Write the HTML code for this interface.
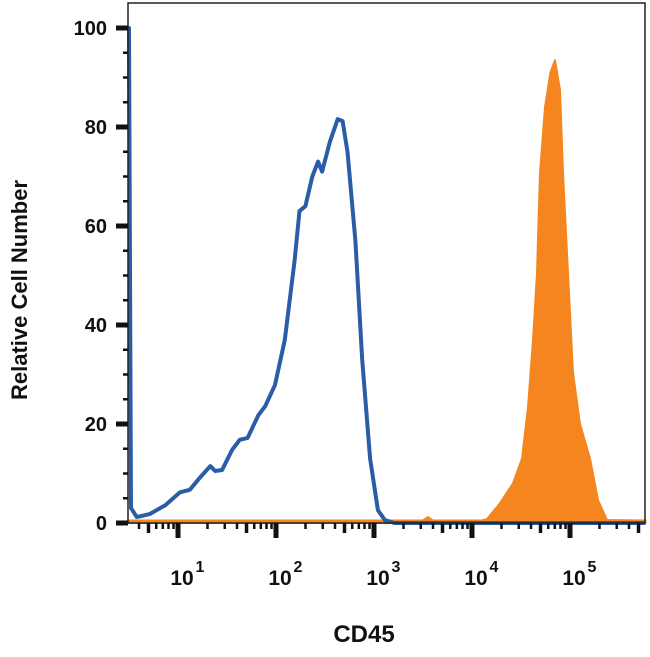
<!DOCTYPE html>
<html><head><meta charset="utf-8"><style>
html,body{margin:0;padding:0;background:#fff;}
svg text{font-family:"Liberation Sans",sans-serif;font-weight:bold;fill:#111;}
</style></head><body>
<svg id="chart" width="650" height="652" xmlns="http://www.w3.org/2000/svg"></svg>
<script>
const blueLog=[0.49,0.50,0.52,0.58,0.71,0.87,1.02,1.12,1.22,1.33,1.38,1.45,1.55,1.63,1.71,1.82,1.89,1.99,2.09,2.19,2.24,2.30,2.37,2.43,2.47,2.55,2.63,2.68,2.73,2.81,2.88,2.96,3.04,3.11,3.21,5.77];
const blueVal=[100,100,3,1.2,1.8,3.6,6.2,6.7,9.1,11.5,10.5,10.7,14.7,16.8,17.2,21.8,23.6,27.9,37,53,63,64,70,73,71,77,81.6,81.2,75,57,33,13,2.6,0.6,0,0];
const orangeLog=[0.49,3.50,3.55,3.60,4.10,4.153,4.286,4.418,4.510,4.571,4.622,4.663,4.694,4.745,4.800,4.847,4.898,4.929,4.980,5.031,5.102,5.204,5.286,5.378,5.77];
const orangeVal=[0.5,0.5,1.2,0.5,0.5,0.8,4,8,13,23.4,37,50.5,70.7,84,91,93.5,87.5,70.7,50.5,30.3,20,13,4.6,0.6,0.5];
const yTicks=[0,20,40,60,80,100];
const xDecades=[1,2,3,4,5];

const svg=document.getElementById('chart');
const NS='http://www.w3.org/2000/svg';
const L=128,R=645,T=3,B=523;
const xs=l=>178+(l-1)*98;
const ys=v=>B-v*4.95;
function mk(tag,attrs){const e=document.createElementNS(NS,tag);for(const k in attrs)e.setAttribute(k,attrs[k]);svg.appendChild(e);return e;}

let d='M'+xs(orangeLog[0])+','+B;
orangeLog.forEach((l,i)=>{d+=' L'+xs(l).toFixed(1)+','+ys(orangeVal[i]).toFixed(1);});
d+=' L'+xs(orangeLog[orangeLog.length-1])+','+B+' Z';
const o=mk('path',{d:d,fill:'#f5861f',stroke:'#f5861f','stroke-width':2,'stroke-linejoin':'round'});



let d2='';
blueLog.forEach((l,i)=>{d2+=(i?' L':'M')+xs(l).toFixed(1)+','+ys(blueVal[i]).toFixed(1);});
const b=mk('path',{d:d2,fill:'none',stroke:'#2a5ca8','stroke-width':4,'stroke-linejoin':'round'});



const f=mk('rect',{x:L,y:T,width:R-L,height:B-T,fill:'none',stroke:'#222','stroke-width':1.5});



for(let v=0;v<=100;v+=5){
  const major=v%20===0;
  const t=mk('line',{x1:major?L-12:L-5,x2:L,y1:ys(v),y2:ys(v),stroke:'#111','stroke-width':major?5:2.5});
  
  
}
yTicks.forEach(v=>{
  const t=mk('text',{x:107,y:ys(v)+7,'text-anchor':'end','font-size':20});
  t.textContent=v;
  
  
});
for(let dec=0;dec<=5;dec++){
  for(let m=1;m<=9;m++){
    const l=dec+Math.log10(m);
    const x=xs(l);
    if(x<L+2||x>R)continue;
    const major=m===1, mid=m===5;
    const t=mk('line',{x1:x,x2:x,y1:B,y2:B+(major?15:mid?10:6),stroke:'#111','stroke-width':major?5:mid?3.5:2.5});
    
    
  }
}
xDecades.forEach(dd=>{
  const t=mk('text',{x:xs(dd)+4,y:585,'text-anchor':'middle','font-size':21});
  t.textContent='10';
  
  
  const s=mk('text',{x:xs(dd)+22,y:572,'text-anchor':'middle','font-size':16});
  s.textContent=dd;
  
  
});
const xt=mk('text',{x:364,y:642,'text-anchor':'middle','font-size':24});
xt.textContent='CD45';


const yt=mk('text',{x:0,y:0,'text-anchor':'middle','font-size':22,transform:'translate(27,290) rotate(-90)'});
yt.textContent='Relative Cell Number';


</script>
</body></html>
